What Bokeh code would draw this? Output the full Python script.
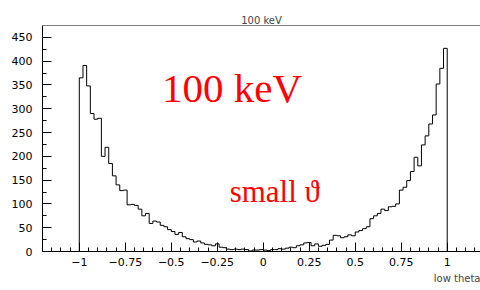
import numpy as np
from bokeh.plotting import figure
from bokeh.models import Label, Span, FixedTicker, Title
from bokeh.embed import file_html
from bokeh.resources import INLINE

# ---- data ----
bin_low = -1.0
bin_high = 1.0
counts = [365, 391, 348, 290, 278, 280, 200, 219, 185, 159,
          140, 128, 129, 98, 99, 97, 89, 75, 80, 59,
          64, 62, 55, 52, 46, 42, 36, 40, 31, 27,
          25, 20, 22, 18, 15, 14, 12, 16, 9, 8,
          5, 4, 5, 4, 5, 4, 1, 3, 3, 4,
          3, 2, 4, 4, 6, 5, 7, 9, 8, 12,
          14, 18, 19, 12, 16, 11, 13, 15, 24, 34,
          33, 29, 31, 35, 33, 41, 44, 48, 52, 69,
          75, 80, 89, 86, 94, 95, 100, 129, 135, 149,
          168, 198, 180, 224, 243, 268, 287, 352, 385, 427]
x_ticks = [-1, -0.75, -0.5, -0.25, 0, 0.25, 0.5, 0.75, 1]
x_tick_labels = ["\u22121", "\u22120.75", "\u22120.5", "\u22120.25", "0", "0.25", "0.5", "0.75", "1"]
y_ticks = [0, 50, 100, 150, 200, 250, 300, 350, 400, 450]
title_text = "100 keV"
x_title = "low theta"
label_big = "100 keV"
label_small = "small \u03d1"

# ---- figure ----
X_MIN, X_MAX = -1.2, 1.181
Y_MAX = 475

p = figure(frame_width=438, frame_height=226,
           min_border_left=42, min_border_right=0,
           min_border_top=25, min_border_bottom=38,
           x_range=(X_MIN, X_MAX), y_range=(0, Y_MAX),
           output_backend="svg", toolbar_location=None)
p.background_fill_color = "white"
p.border_fill_color = "white"
p.outline_line_color = None
p.xgrid.grid_line_color = None
p.ygrid.grid_line_color = None

p.title.text = title_text
p.title.align = "center"
p.title.text_font = "DejaVu Sans"
p.title.text_font_size = "10px"
p.title.text_font_style = "normal"
p.title.standoff = 0
p.title.offset = 2

edges = np.linspace(bin_low, bin_high, len(counts) + 1)
xs = np.repeat(edges, 2)
ys = np.concatenate([[0], np.repeat(counts, 2), [0]])
p.line(x=xs, y=ys, line_color="black", line_width=1)

# top frame line
p.add_layout(Span(location=Y_MAX, dimension="width", line_color="black", line_width=1))

minor_x = [round(v, 2) for v in np.arange(-1.2, 1.2001, 0.05)]
minor_y = list(range(0, Y_MAX, 25))

xa = p.xaxis[0]
xa.ticker = FixedTicker(ticks=x_ticks, minor_ticks=minor_x)
xa.major_label_overrides = {t: l for t, l in zip(x_ticks, x_tick_labels)}
ya = p.yaxis[0]
ya.ticker = FixedTicker(ticks=y_ticks, minor_ticks=minor_y)

for ax in (xa, ya):
    ax.axis_line_color = "black"
    ax.major_tick_line_color = "black"
    ax.minor_tick_line_color = "black"
    ax.major_tick_in = 9
    ax.major_tick_out = 0
    ax.minor_tick_in = 4
    ax.minor_tick_out = 0
    ax.major_label_text_font = "DejaVu Sans"
    ax.major_label_text_font_size = "11px"
    ax.major_label_text_color = "black"
xa.major_label_standoff = 6
ya.major_label_standoff = 10

# x axis title, right-aligned at the frame's right end
p.add_layout(Title(text=x_title, align="right", text_font="DejaVu Sans",
                   text_font_size="10px", text_font_style="normal",
                   standoff=4), "below")

# red annotations
p.add_layout(Label(x=-0.55, y=296, text=label_big, text_font="Liberation Serif",
                   text_font_size="41px", text_color="red"))
p.add_layout(Label(x=-0.1825, y=89, text=label_small, text_font="Liberation Serif",
                   text_font_size="31px", text_color="red"))

open("out.html", "w").write(file_html(p, INLINE))
